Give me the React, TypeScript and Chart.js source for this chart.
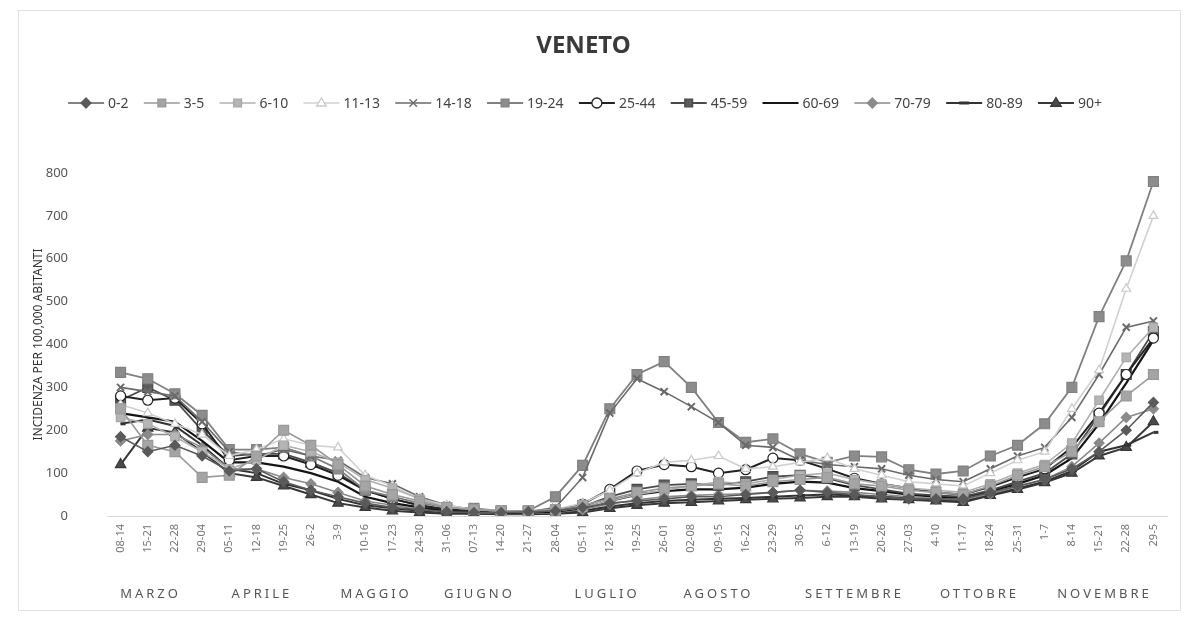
import React, { useEffect, useRef } from 'react';
import { Chart, registerables } from 'chart.js';

Chart.register(...registerables);

const weeks = ['08-14','15-21','22-28','29-04','05-11','12-18','19-25','26-2','3-9','10-16','17-23','24-30','31-06','07-13','14-20','21-27','28-04','05-11','12-18','19-25','26-01','02-08','09-15','16-22','23-29','30-5','6-12','13-19','20-26','27-03','4-10','11-17','18-24','25-31','1-7','8-14','15-21','22-28','29-5'];

const months = ['MARZO','APRILE','MAGGIO','GIUGNO','LUGLIO','AGOSTO','SETTEMBRE','OTTOBRE','NOVEMBRE'];
const monthCenters = [1.1, 5.2, 9.4, 13.2, 17.9, 22, 27, 31.6, 36.2];

const ageGroups = ['0-2','3-5','6-10','11-13','14-18','19-24','25-44','45-59','60-69','70-79','80-89','90+'];

const s0_2 = [185,150,165,140,105,110,80,60,45,30,20,15,10, 8,8,10,12,20,30,35,40,45,45,50,55,60, 55,50,45,40,40,40,55,70,85,110,150,200,265];
const s3_5 = [250,165,150,90,95,140,200,165,120,70,50,35,20, 15,12,12,15,25,40,55,65,70,75,70,80,85, 90,75,70,60,55,50,70,95,115,150,220,280,330];
const s6_10 = [230,215,185,150,110,130,165,150,125,85,65,40,20, 15,12,10,12,20,35,50,60,70,80,75,85,95, 100,85,75,65,60,55,75,100,120,170,270,370,440];
const s11_13 = [260,240,215,190,140,155,180,165,160,95,70,40,25, 15,12,10,15,30,60,100,125,130,140,110,115,125, 135,110,95,80,75,70,100,130,150,250,340,530,700];
const s14_18 = [300,290,280,220,150,140,155,140,130,90,75,45,25, 15,10,10,20,90,240,320,290,255,218,165,160,130, 120,115,110,95,85,80,110,140,160,230,330,440,455];
const s19_24 = [335,320,285,235,155,155,160,140,110,60,45,30,20, 18,12,12,45,118,250,330,360,300,218,172,180,145, 125,140,138,108,98,105,140,165,215,300,465,595,780];
const s25_44 = [280,270,275,215,130,140,140,120,95,60,40,25,15, 12,10,10,12,28,62,105,120,115,100,108,135,130, 110,88,75,65,55,50,68,90,110,160,240,330,415];
const s45_59 = [270,300,270,200,140,145,145,125,100,60,40,25,15, 12,10,10,12,22,45,62,72,75,72,80,92,95, 88,72,62,52,48,45,60,80,100,145,235,330,430];
const s60_69 = [240,230,220,175,125,125,115,100,80,45,30,20,12, 10,8,8,10,18,35,50,58,62,62,66,75,80, 78,65,58,50,45,42,58,75,95,135,215,310,410];
const s70_79 = [175,190,190,160,110,110,90,75,55,35,25,15,10, 8,6,6,8,15,28,38,45,48,50,52,55,60, 58,55,50,45,40,38,52,68,85,115,170,230,250];
const s80_89 = [215,225,210,165,110,100,75,60,40,25,18,12,8, 6,5,5,6,12,22,30,35,38,40,42,45,48, 50,48,45,42,38,35,50,65,80,105,150,165,195];
const s90 = [120,205,195,150,100,90,70,50,30,20,12,8,5, 5,4,4,5,8,18,25,30,32,35,38,40,42, 45,45,40,38,35,32,48,62,78,100,140,160,220];

const seriesValues = [s0_2, s3_5, s6_10, s11_13, s14_18, s19_24, s25_44, s45_59, s60_69, s70_79, s80_89, s90];

type Sty = { line: string; fill: string; stroke: string; marker: string | false; r: number; w: number };
const styles: Sty[] = [
  { line: '#5a5a5a', fill: '#5a5a5a', stroke: '#5a5a5a', marker: 'rectRot', r: 5, w: 1.6 },
  { line: '#9a9a9a', fill: '#a5a5a5', stroke: '#999999', marker: 'rect', r: 7, w: 1.6 },
  { line: '#b0b0b0', fill: '#b5b5b5', stroke: '#a8a8a8', marker: 'rect', r: 6, w: 1.6 },
  { line: '#d0d0d0', fill: '#ffffff', stroke: '#c8c8c8', marker: 'triangle', r: 5, w: 1.6 },
  { line: '#6a6a6a', fill: '#6a6a6a', stroke: '#6a6a6a', marker: 'crossRot', r: 5, w: 1.6 },
  { line: '#808080', fill: '#8c8c8c', stroke: '#808080', marker: 'rect', r: 7, w: 1.8 },
  { line: '#222222', fill: '#ffffff', stroke: '#222222', marker: 'circle', r: 5, w: 2 },
  { line: '#4a4a4a', fill: '#5c5c5c', stroke: '#4a4a4a', marker: 'rect', r: 7, w: 1.8 },
  { line: '#151515', fill: '#151515', stroke: '#151515', marker: false, r: 0, w: 2.2 },
  { line: '#8a8a8a', fill: '#8a8a8a', stroke: '#8a8a8a', marker: 'rectRot', r: 5, w: 1.6 },
  { line: '#333333', fill: '#333333', stroke: '#333333', marker: 'dash', r: 5, w: 2 },
  { line: '#383838', fill: '#4a4a4a', stroke: '#383838', marker: 'triangle', r: 6, w: 2 },
];

const FONT = '"Noto Sans", "Liberation Sans", sans-serif';

function drawMarker(ctx: CanvasRenderingContext2D, kind: string | false, x: number, y: number, r: number, fill: string, stroke: string) {
  if (!kind) return;
  ctx.save();
  ctx.fillStyle = fill;
  ctx.strokeStyle = stroke;
  ctx.lineWidth = 1.3;
  ctx.beginPath();
  if (kind === 'circle') {
    ctx.arc(x, y, r, 0, Math.PI * 2);
    ctx.fill(); ctx.stroke();
  } else if (kind === 'rect') {
    const s = r * Math.SQRT1_2;
    ctx.rect(x - s, y - s, 2 * s, 2 * s);
    ctx.fill(); ctx.stroke();
  } else if (kind === 'rectRot') {
    ctx.moveTo(x, y - r); ctx.lineTo(x + r, y); ctx.lineTo(x, y + r); ctx.lineTo(x - r, y); ctx.closePath();
    ctx.fill(); ctx.stroke();
  } else if (kind === 'triangle') {
    ctx.moveTo(x, y - r); ctx.lineTo(x + r * 0.95, y + r * 0.6); ctx.lineTo(x - r * 0.95, y + r * 0.6); ctx.closePath();
    ctx.fill(); ctx.stroke();
  } else if (kind === 'crossRot') {
    const s = r * 0.75;
    ctx.moveTo(x - s, y - s); ctx.lineTo(x + s, y + s); ctx.moveTo(x + s, y - s); ctx.lineTo(x - s, y + s);
    ctx.stroke();
  } else if (kind === 'dash') {
    ctx.lineWidth = 3;
    ctx.moveTo(x - r, y); ctx.lineTo(x + r, y);
    ctx.stroke();
  }
  ctx.restore();
}

const legendPlugin = {
  id: 'customLegend',
  afterDraw(chart: any) {
    const ctx: CanvasRenderingContext2D = chart.ctx;
    ctx.save();
    ctx.font = `14px ${FONT}`;
    const lineW = 36, gap = 4;
    const left = 68, right = 1102, y = 103;
    const labels: string[] = chart.data.datasets.map((d: any) => d.label);
    const widths = labels.map((l) => lineW + gap + ctx.measureText(l).width);
    const sum = widths.reduce((a, b) => a + b, 0);
    const itemGap = (right - left - sum) / (labels.length - 1);
    let x = left;
    labels.forEach((l, i) => {
      const st = styles[i];
      ctx.strokeStyle = st.line;
      ctx.lineWidth = st.w;
      ctx.beginPath();
      ctx.moveTo(x, y); ctx.lineTo(x + lineW, y);
      ctx.stroke();
      drawMarker(ctx, st.marker, x + lineW / 2, y, Math.min(st.r, 5.5), st.fill, st.stroke);
      ctx.fillStyle = '#444';
      ctx.textAlign = 'left';
      ctx.textBaseline = 'middle';
      ctx.fillText(l, x + lineW + gap, y + 1);
      x += widths[i] + itemGap;
    });
    ctx.restore();
  },
};

const monthPlugin = {
  id: 'monthLabels',
  afterDraw(chart: any) {
    const ctx: CanvasRenderingContext2D = chart.ctx;
    const xs = chart.scales.x;
    ctx.save();
    ctx.font = `13px ${FONT}`;
    (ctx as any).letterSpacing = '3px';
    ctx.fillStyle = '#555';
    ctx.textAlign = 'center';
    ctx.textBaseline = 'middle';
    months.forEach((m, i) => {
      ctx.fillText(m, xs.getPixelForValue(monthCenters[i]), 594);
    });
    ctx.restore();
  },
};

const framePlugin = {
  id: 'frame',
  beforeDraw(chart: any) {
    const ctx: CanvasRenderingContext2D = chart.ctx;
    ctx.save();
    ctx.fillStyle = '#ffffff';
    ctx.fillRect(0, 0, chart.width, chart.height);
    ctx.strokeStyle = '#e2e2e2';
    ctx.lineWidth = 1;
    ctx.strokeRect(18.5, 10.5, 1162, 600);
    ctx.restore();
  },
};

export default function App() {
  const ref = useRef<HTMLCanvasElement | null>(null);
  useEffect(() => {
    if (!ref.current) return;
    const chart = new Chart(ref.current, {
      type: 'line',
      data: {
        labels: weeks,
        datasets: ageGroups.map((g, i) => {
          const st = styles[i];
          return {
            label: g,
            data: seriesValues[i],
            borderColor: st.line,
            borderWidth: st.w,
            backgroundColor: st.fill,
            pointStyle: st.marker || 'circle',
            pointRadius: st.marker ? st.r : 0,
            pointBorderColor: st.stroke,
            pointBackgroundColor: st.fill,
            pointBorderWidth: st.marker === 'crossRot' ? 2 : st.marker === 'dash' ? 3 : 1.2,
            tension: 0,
            fill: false,
          };
        }),
      },
      options: {
        animation: false,
        responsive: false,
        layout: { padding: { left: 0, right: 29, top: 0, bottom: 0 } },
        plugins: {
          legend: { display: false },
          tooltip: { enabled: false },
          title: {
            display: true,
            text: 'VENETO',
            color: '#3a3a3a',
            font: { family: FONT, size: 24, weight: 'bold' },
            padding: { top: 32, bottom: 112.2 },
          },
        },
        scales: {
          x: {
            offset: true,
            grid: { display: false, drawTicks: false },
            border: { display: true, color: '#d8d8d8' },
            ticks: {
              autoSkip: false,
              minRotation: 90,
              maxRotation: 90,
              padding: 8,
              color: '#777',
              font: { family: FONT, size: 11 },
            },
            afterFit: (s: any) => { s.height = 102; },
          },
          y: {
            min: 0,
            max: 800,
            grid: { display: false, drawTicks: false },
            border: { display: false },
            ticks: {
              stepSize: 100,
              padding: 39,
              color: '#555',
              font: { family: FONT, size: 13 },
            },
            title: {
              display: true,
              text: 'INCIDENZA PER 100,000 ABITANTI',
              color: '#333',
              font: { family: FONT, size: 12 },
              padding: { top: 31, bottom: 0 },
            },
            afterFit: (s: any) => { s.width = 107; },
          },
        },
      },
      plugins: [framePlugin, legendPlugin, monthPlugin],
    });
    return () => chart.destroy();
  }, []);
  return (
    <div style={{ position: 'absolute', left: 0, top: 0, width: 1196, height: 618, background: '#fff' }}>
      <canvas ref={ref} width={1196} height={618} style={{ width: 1196, height: 618, display: 'block' }} />
    </div>
  );
}
